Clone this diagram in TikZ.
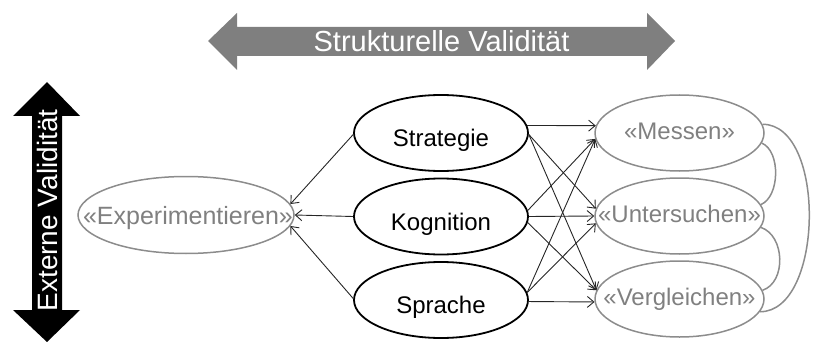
\documentclass[tikz,border=0pt]{standalone}
\usepackage{fontspec}
\setmainfont{Liberation Sans}
\usetikzlibrary{shapes.geometric,arrows.meta}
\definecolor{bgray}{HTML}{7F7F7F}
\definecolor{egray}{HTML}{8C8C8C}
\definecolor{tgray}{HTML}{808080}
\begin{document}
\begin{tikzpicture}[x=1pt,y=-1pt,
  blk/.style={ellipse, draw=black, line width=1.8pt, minimum width=174pt, minimum height=76pt, inner sep=0pt},
  gry/.style={ellipse, draw=egray, line width=1.5pt, minimum width=169pt, minimum height=76pt, inner sep=0pt},
  btxt/.style={anchor=base, font=\fontsize{24}{28}\selectfont, text=black, inner sep=0pt},
  gtxt/.style={anchor=base, font=\fontsize{24}{28}\selectfont, text=tgray, inner sep=0pt},
  arr/.style={-{Straight Barb[length=6.5pt,width=11pt]}, line width=0.9pt, draw=black!85},
  lnk/.style={draw=egray, line width=1.5pt}]

\useasboundingbox (0,0) rectangle (813,342);

% block arrows
\fill[bgray] (208,41) -- (237,13) -- (237,27) -- (647,27) -- (647,13) -- (675,41) -- (647,70) -- (647,56) -- (237,56) -- (237,70) -- cycle;
\node[anchor=base, text=white, font=\fontsize{29}{34}\selectfont, inner sep=0pt] (tSV) at (441.5,51.5) {Strukturelle Validität};

\fill[black] (47,82) -- (80,116) -- (62,116) -- (62,310) -- (80,310) -- (47,342) -- (13,310) -- (32,310) -- (32,116) -- (13,116) -- cycle;
\node[rotate=90, anchor=base, text=white, font=\fontsize{28}{33}\selectfont, inner sep=0pt] (tEV) at (57,210.5) {Externe Validität};

% ellipses
\node[gry, minimum width=216pt, minimum height=77pt] (E) at (186,215) {};
\node[blk] (S) at (441,133) {};
\node[blk] (K) at (441,216.5) {};
\node[blk] (P) at (441,300) {};
\node[gry] (M) at (679.5,133) {};
\node[gry] (U) at (679.5,216) {};
\node[gry] (V) at (679.5,299) {};

% texts
\node[gtxt, font=\fontsize{25}{29}\selectfont] (tE) at ([xshift=2pt,yshift=-9pt]E.center) {«Experimentieren»};
\node[btxt] (tStr) at ([yshift=-13.5pt]S.center) {Strategie};
\node[btxt] (tKog) at ([yshift=-13.5pt]K.center) {Kognition};
\node[btxt] (tSpr) at ([yshift=-13.5pt]P.center) {Sprache};
\node[gtxt] (tM) at ([yshift=-6.5pt]M.center) {«Messen»};
\node[gtxt] (tU) at ([yshift=-6.5pt]U.center) {«Untersuchen»};
\node[gtxt] (tV) at ([yshift=-6.5pt]V.center) {«Vergleichen»};

% arrows to Experimentieren
\draw[arr] (S.181) -- (E.6);
\draw[arr] (K.180) -- (E.0);
\draw[arr] (P.179) -- (E.-6);

% arrows to the right
\draw[arr] (S.5) -- (M.175);
\draw[arr] (S.-1) -- (U.175);
\draw[arr] (S.-1) -- (V.174);
\draw[arr] (K.4) -- (M.184);
\draw[arr] (K.0) -- (U.180);
\draw[arr] (K.-4) -- (V.174);
\draw[arr] (P.5) -- (M.184);
\draw[arr] (P.5) -- (U.185);
\draw[arr] (P.-1) -- (V.182);

% links between right ellipses
\draw[lnk] (M.6) .. controls +(64,0) and +(64,0) .. (V.-9);
\draw[lnk] (M.-7) .. controls +(19,8) and +(19,-8) .. (U.8);
\draw[lnk] (U.-8) .. controls +(24,8) and +(24,-8) .. (V.6);
\end{tikzpicture}
\end{document}
